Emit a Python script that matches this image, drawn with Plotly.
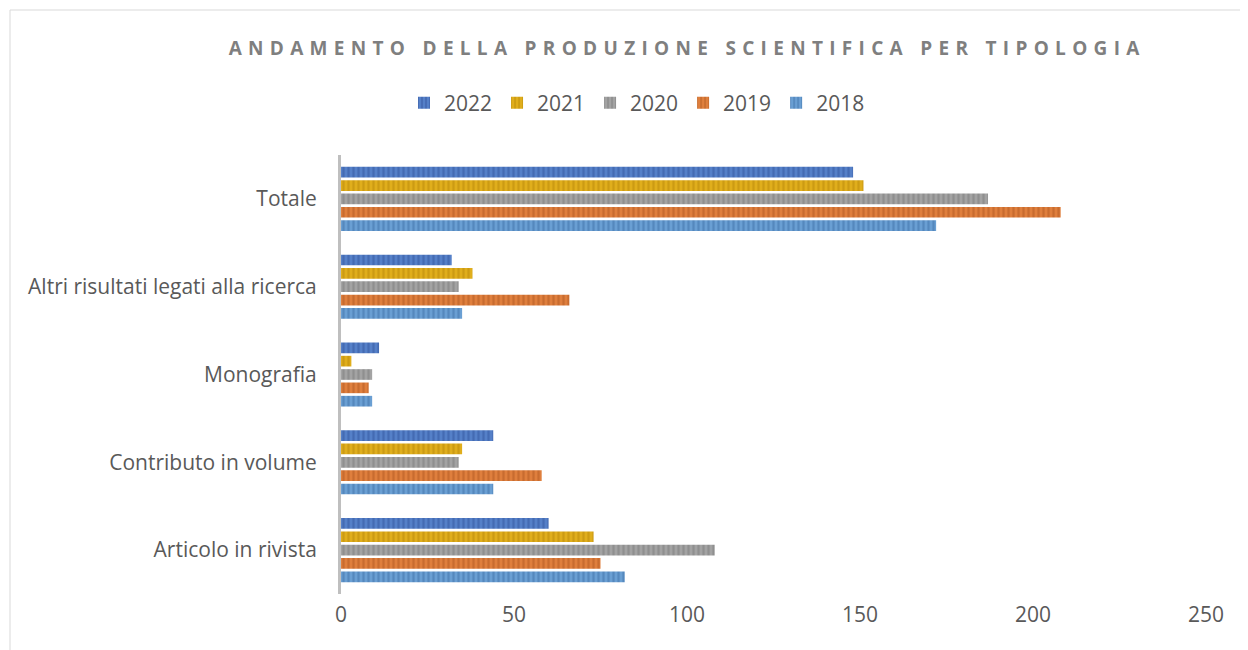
import plotly.graph_objects as go

categories = ["Articolo in rivista", "Contributo in volume", "Monografia",
              "Altri risultati legati alla ricerca", "Totale"]
years = ["2018", "2019", "2020", "2021", "2022"]

v2018 = [82, 44, 9, 35, 172]
v2019 = [75, 58, 8, 66, 208]
v2020 = [108, 34, 9, 34, 187]
v2021 = [73, 35, 3, 38, 151]
v2022 = [60, 44, 11, 32, 148]

values = {"2018": v2018, "2019": v2019, "2020": v2020, "2021": v2021, "2022": v2022}
base_col = {"2018": "#6a9fd3", "2019": "#df7f3d", "2020": "#a3a3a3", "2021": "#e0ae1c", "2022": "#5580c8"}
dark_col = {"2018": "#3f72a8", "2019": "#b25a22", "2020": "#7c7c7c", "2021": "#b8880a", "2022": "#34569e"}

title_txt = "ANDAMENTO DELLA PRODUZIONE SCIENTIFICA PER TIPOLOGIA"
spaced = "\u2009\u2009".join(title_txt)

# page body adds an 8px offset; margins compensate so the plot area lands at x 341-1206, y 155-594
L, T, PW, PH = 333, 147, 865, 439

fig = go.Figure()
for y in years:
    fig.add_trace(go.Bar(
        y=categories, x=values[y], name=y, orientation="h",
        marker=dict(color=base_col[y], line=dict(width=0),
                    pattern=dict(shape="|", fgcolor=dark_col[y], size=5,
                                 solidity=0.45, fillmode="overlay")),
    ))

fx = -(L - 2) / PW
fy = 1 + (T - 2) / PH
fig.add_shape(type="line", xref="paper", yref="paper",
              x0=fx, x1=1.2, y0=fy, y1=fy, line=dict(color="#d9d9d9", width=1))
fig.add_shape(type="line", xref="paper", yref="paper",
              x0=fx, x1=fx, y0=fy, y1=-0.3, line=dict(color="#d9d9d9", width=1))

fig.update_xaxes(range=[0, 250], tickvals=[0, 50, 100, 150, 200, 250],
                 showgrid=False, zeroline=False, showline=False,
                 tickfont=dict(size=21, color="#595959"), ticklabelstandoff=6)
fig.update_yaxes(showgrid=False, showline=True, linecolor="#bfbfbf", linewidth=3,
                 tickfont=dict(size=21, color="#595959"), ticklabelstandoff=17)
fig.update_layout(
    width=1248, height=650, barmode="group", bargap=0.24, bargroupgap=0.2,
    plot_bgcolor="white", paper_bgcolor="white",
    margin=dict(l=L, r=1248 - L - PW, t=T, b=650 - T - PH),
    font=dict(family="Open Sans, sans-serif", color="#595959"),
    title=dict(text=spaced, x=(684 - 8) / 1248, xanchor="center",
               y=1 - (48 - 8) / 650, yanchor="middle",
               font=dict(size=19, color="#7f7f7f", family="Open Sans, sans-serif", weight="bold")),
    legend=dict(orientation="h", traceorder="reversed", x=(637 - 341) / PW, xanchor="center",
                y=1 + (155 - 103) / PH, yanchor="middle", font=dict(size=21, color="#595959"),
                itemwidth=30),
    showlegend=True,
)

fig.write_html("out.html")
